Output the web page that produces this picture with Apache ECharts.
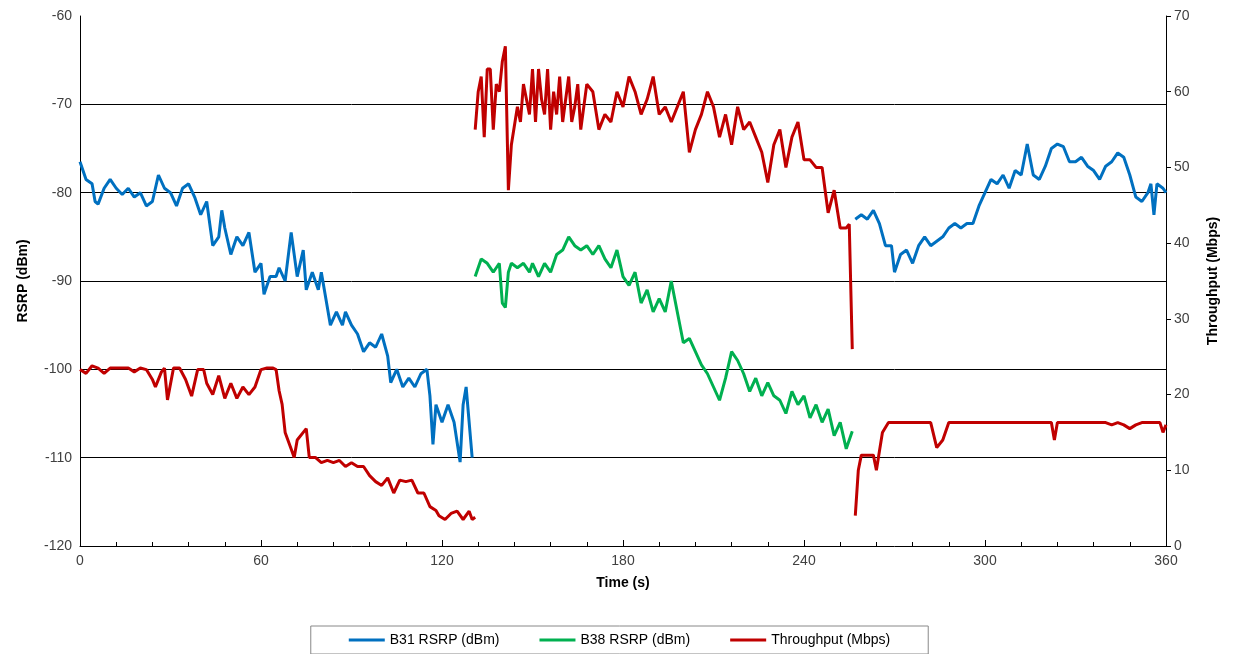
<!DOCTYPE html>
<html><head><meta charset="utf-8">
<script src="https://cdn.jsdelivr.net/npm/echarts@6/dist/echarts.min.js"></script>
<style>html,body{margin:0;padding:0;background:#fff}#c{width:1239px;height:654px}</style>
</head><body><div id="c"></div>
<script>
const gridLevels=[-70,-80,-90,-100,-110];
const b31a=[[0,-76.5],[2,-78.5],[4,-79],[5,-81],[6,-81.3],[8,-79.5],[10,-78.5],[12,-79.5],[14,-80.2],[16,-79.5],[18,-80.5],[20,-80],[22,-81.5],[24,-81],[26,-78],[28,-79.5],[30,-80],[32,-81.5],[34,-79.5],[36,-79],[38,-80.5],[40,-82.5],[42,-81],[44,-86],[46,-85],[47,-82],[48,-84],[50,-87],[52,-85],[54,-86],[56,-84.5],[58,-89],[60,-88],[61,-91.5],[63,-89.5],[65,-89.5],[66,-88.5],[68,-90],[70,-84.5],[72,-89.5],[74,-86.5],[75,-91],[77,-89],[79,-91],[80,-89],[82,-93],[83,-95],[85,-93.5],[87,-95],[88,-93.5],[90,-95],[92,-96],[94,-98],[96,-97],[98,-97.5],[100,-96],[102,-98.5],[103,-101.5],[105,-100],[107,-102],[109,-101],[111,-102],[113,-100.5],[115,-100],[116,-103],[117,-108.5],[118,-104],[120,-106],[122,-104],[124,-106],[126,-110.5],[127,-104],[128,-102],[130,-110]];
const b31b=[[257,-83],[259,-82.5],[261,-83],[263,-82],[265,-83.5],[267,-86],[269,-86],[270,-89],[272,-87],[274,-86.5],[276,-88],[278,-86],[280,-85],[282,-86],[284,-85.5],[286,-85],[288,-84],[290,-83.5],[292,-84],[294,-83.5],[296,-83.5],[298,-81.5],[300,-80],[302,-78.5],[304,-79],[306,-78],[308,-79.5],[310,-77.5],[312,-78],[314,-74.5],[316,-78],[318,-78.5],[320,-77],[322,-75],[324,-74.5],[326,-74.8],[328,-76.5],[330,-76.5],[332,-76],[334,-77],[336,-77.5],[338,-78.5],[340,-77],[342,-76.5],[344,-75.5],[346,-76],[348,-78],[350,-80.5],[352,-81],[354,-80],[355,-79],[356,-82.5],[357,-79],[359,-79.5],[360,-80]];
const b38=[[131,-89.5],[133,-87.5],[135,-88],[137,-89],[138,-88.5],[139,-88],[140,-92.5],[141,-93],[142,-89],[143,-88],[145,-88.5],[147,-88],[149,-89],[150,-88],[152,-89.5],[154,-88],[156,-89],[158,-87],[160,-86.5],[162,-85],[164,-86],[166,-86.5],[168,-86],[170,-87],[172,-86],[174,-87.5],[176,-88.5],[178,-86.5],[180,-89.5],[182,-90.5],[184,-89],[186,-92.5],[188,-91],[190,-93.5],[192,-92],[194,-93.5],[196,-90],[198,-93.5],[200,-97],[202,-96.5],[204,-98],[206,-99.5],[208,-100.5],[210,-102],[212,-103.5],[214,-101],[216,-98],[218,-99],[220,-100.5],[222,-102.5],[224,-101],[226,-103],[228,-101.5],[230,-103],[232,-103.5],[234,-105],[236,-102.5],[238,-104],[240,-103],[242,-105.5],[244,-104],[246,-106],[248,-104.5],[250,-107.5],[252,-106],[254,-109],[256,-107]];
const tpA=[[0,23.3],[2,22.8],[4,23.8],[6,23.5],[8,22.8],[10,23.5],[12,23.5],[16,23.5],[18,23],[20,23.5],[22,23.3],[24,22],[25,21],[27,23],[28,23.5],[29,19.3],[31,23.5],[33,23.5],[35,22],[37,19.8],[39,23.3],[41,23.3],[42,21.5],[44,20],[46,22.5],[48,19.5],[50,21.5],[52,19.5],[54,21],[56,20],[58,21],[60,23.3],[62,23.5],[64,23.5],[65,23.3],[66,20.5],[67,18.7],[68,15],[70,12.8],[71,11.7],[72,14],[74,15],[75,15.5],[76,11.7],[78,11.7],[80,11],[82,11.3],[84,11],[86,11.3],[88,10.5],[90,11],[92,10.5],[94,10.5],[96,9.3],[98,8.5],[100,8],[102,9],[104,7],[106,8.7],[108,8.5],[110,8.7],[112,7],[114,7],[116,5.2],[118,4.7],[119,4],[121,3.5],[123,4.3],[125,4.6],[127,3.5],[129,4.6],[130,3.5],[131,3.8]];
const tpB=[[131,55],[132,60],[133,62],[134,54],[135,63],[136,63],[137,55],[138,61],[139,60],[140,64],[141,66],[142,47],[143,53],[144,55.5],[145,58],[146,56],[147,61],[148,59],[149,57],[150,63],[151,56],[152,63],[153,59],[154,57],[155,63],[156,55],[157,60],[158,57],[159,62],[160,56],[161,59],[162,62],[163,56],[164,58],[165,61],[166,55],[168,61],[170,60],[172,55],[174,57],[176,56],[178,60],[180,58],[182,62],[184,60],[186,57],[188,59],[190,62],[192,57],[194,58],[196,56],[198,58],[200,60],[202,52],[204,55],[206,57],[208,60],[210,58],[212,54],[214,57],[216,53],[218,58],[220,55],[222,56],[224,54],[226,52],[228,48],[230,53],[232,55],[234,50],[236,54],[238,56],[240,51],[242,51],[244,50],[246,50],[248,44],[250,47],[252,42],[254,42],[255,42.5],[256,26]];
const tpC=[[257,4],[258,10],[259,12],[261,12],[263,12],[264,10],[265,12.5],[266,15],[268,16.3],[272,16.3],[276,16.3],[280,16.3],[282,16.3],[284,13],[286,14],[288,16.3],[292,16.3],[296,16.3],[300,16.3],[304,16.3],[308,16.3],[312,16.3],[316,16.3],[320,16.3],[322,16.3],[323,14],[324,16.3],[328,16.3],[332,16.3],[336,16.3],[340,16.3],[342,16],[344,16.3],[346,16],[348,15.5],[350,16],[352,16.3],[356,16.3],[358,16.3],[359,15],[360,16]];
const C={b31:'#0070C0',b38:'#00B050',tp:'#C00000'};
function ln(name,data,color,y){return {name,type:'line',data,yAxisIndex:y,symbol:'none',lineStyle:{width:3,color},itemStyle:{color},z:y?3:2};}
const chart=echarts.init(document.getElementById('c'));
const axTxt={color:'#404040',fontSize:14,fontFamily:'Liberation Sans, Arial'};
const nm={fontWeight:'bold',fontSize:14,color:'#000',fontFamily:'Liberation Sans, Arial'};
const s0=ln('B31 RSRP (dBm)',b31a,C.b31,0);
s0.markLine={silent:true,symbol:'none',label:{show:false},lineStyle:{color:'#000',width:1,type:'solid'},z:1,data:gridLevels.map(v=>({yAxis:v}))};
chart.setOption({
animation:false,
grid:{left:80,right:73,top:16,bottom:108},
legend:{bottom:0,left:'center',itemWidth:36,itemHeight:3,icon:'rect',itemGap:40,borderColor:'#888',borderWidth:1,padding:[7,38,7,38],
 textStyle:{fontSize:14,color:'#000',fontFamily:'Liberation Sans, Arial'},
 data:['B31 RSRP (dBm)','B38 RSRP (dBm)','Throughput (Mbps)']},
xAxis:{type:'value',min:0,max:360,interval:60,name:'Time (s)',nameLocation:'middle',nameGap:30,nameTextStyle:nm,
 axisLine:{lineStyle:{color:'#000'}},axisTick:{inside:true,length:6,lineStyle:{color:'#000'}},
 minorTick:{show:true,splitNumber:5,length:4,lineStyle:{color:'#000'}},splitLine:{show:false},axisLabel:axTxt},
yAxis:[{type:'value',min:-120,max:-60,interval:10,name:'RSRP (dBm)',nameLocation:'middle',nameGap:50,nameTextStyle:nm,
 axisLine:{show:true,lineStyle:{color:'#000'}},axisTick:{show:false},
 splitLine:{show:false},axisLabel:axTxt},
{type:'value',min:0,max:70,interval:10,name:'Throughput (Mbps)',nameLocation:'middle',nameGap:40,nameTextStyle:nm,
 axisLine:{show:true,lineStyle:{color:'#000'}},axisTick:{show:true,length:5,lineStyle:{color:'#000'}},
 splitLine:{show:false},axisLabel:axTxt}],
series:[s0,ln('B31 RSRP (dBm)',b31b,C.b31,0),ln('B38 RSRP (dBm)',b38,C.b38,0),
 ln('Throughput (Mbps)',tpA,C.tp,1),ln('Throughput (Mbps)',tpB,C.tp,1),ln('Throughput (Mbps)',tpC,C.tp,1)]
});
</script></body></html>
